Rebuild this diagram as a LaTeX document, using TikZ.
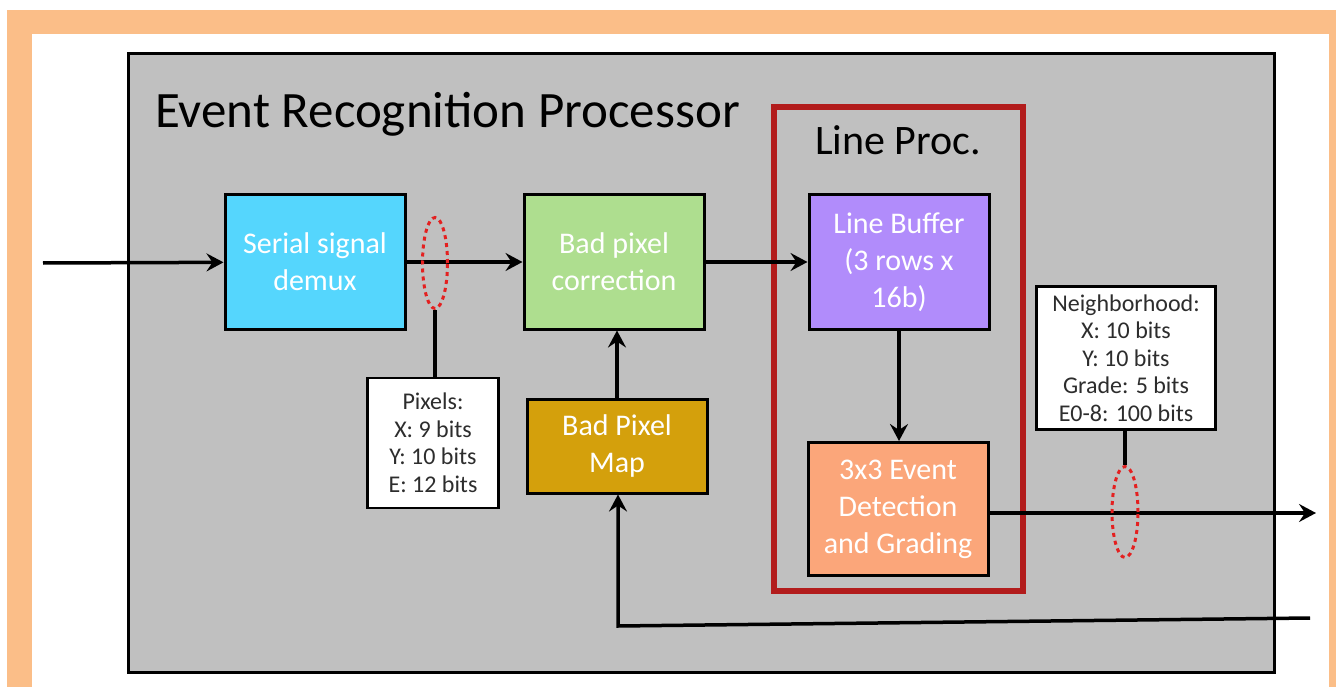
\documentclass[tikz,border=0pt]{standalone}
\usepackage{fontspec}
\setmainfont{Carlito}
\usetikzlibrary{arrows.meta,shapes.geometric}
\definecolor{framebg}{RGB}{251,190,136}
\definecolor{procgray}{RGB}{192,192,192}
\definecolor{demuxblue}{RGB}{85,214,253}
\definecolor{corrgreen}{RGB}{174,222,143}
\definecolor{bufpurple}{RGB}{177,140,251}
\definecolor{mapgold}{RGB}{212,160,12}
\definecolor{detsalmon}{RGB}{251,166,122}
\definecolor{procred}{RGB}{178,28,28}
\definecolor{ringred}{RGB}{228,32,32}
\definecolor{infotext}{RGB}{45,45,45}
\begin{document}
\begin{tikzpicture}[x=1pt, y=-1pt,
    block/.style={draw=black, line width=3pt, text=white, align=center, inner sep=0pt,
      font=\fontsize{30}{37}\selectfont},
    info/.style={draw=black, fill=white, line width=2.5pt, text=infotext, align=center, inner sep=0pt,
      font=\fontsize{24}{27.5}\selectfont},
    ring/.style={ellipse, draw=ringred, line width=3pt, dash pattern=on 4pt off 4pt, inner sep=0pt},
    flow/.style={line width=3.5pt, -{Stealth[length=17pt, width=18pt, inset=6pt]}},
    tap/.style={line width=3.5pt}]
  \useasboundingbox (0,0) rectangle (1336,687);
  \fill[framebg] (7,10) rectangle (1336,687);
  \fill[white] (32,34) rectangle (1329,687);
  \filldraw[fill=procgray, draw=black, line width=3pt] (128,54) rectangle (1274,672);
  \node[anchor=base west, inner sep=0pt, font=\fontsize{51}{60}\selectfont] (title) at (155,128) {Event Recognition Processor};
  \draw[procred, line width=5.5pt] (774,107) rectangle (1023,591);
  \node[anchor=base, inner sep=0pt, font=\fontsize{42}{50}\selectfont] (lptitle) at (898,155) {Line Proc.};

  \node[block, fill=demuxblue, minimum width=180pt, minimum height=134pt] (demux) at (315,262) {Serial signal\\demux};
  \node[block, fill=corrgreen, minimum width=180pt, minimum height=134pt] (corr) at (614,262) {Bad pixel\\correction};
  \node[block, fill=bufpurple, minimum width=180pt, minimum height=134pt] (lbuf) at (899,262) {Line Buffer\\(3 rows x\\16b)};
  \node[block, fill=mapgold, minimum width=180pt, minimum height=94pt] (bpmap) at (617,446) {Bad Pixel\\Map};
  \node[block, fill=detsalmon, minimum width=180pt, minimum height=133pt] (evdet) at (898,509) {3x3 Event\\Detection\\and Grading};
  \node[info, minimum width=131pt, minimum height=130pt] (pixinfo) at (433,443) {Pixels:\\X: 9 bits\\Y: 10 bits\\E: 12 bits};
  \node[info, minimum width=179pt, minimum height=143pt] (nbinfo) at (1126,358) {Neighborhood:\\X: 10 bits\\Y: 10 bits\\Grade: 5 bits\\E0-8: 100 bits};

  \coordinate (sigin) at (43,263);
  \coordinate (evout) at (1316,513);
  \coordinate (fbin) at (1310,618);
  \coordinate (fbturn) at (618,626);
  \draw[flow] (sigin) -- (demux);
  \draw[flow] (demux) -- (corr);
  \draw[flow] (corr) -- (lbuf);
  \draw[flow] (lbuf.south) -- (lbuf.south |- evdet.north);
  \draw[flow] (bpmap.north) -- (bpmap.north |- corr.south);
  \draw[flow] (evdet.east |- evout) -- (evout);
  \draw[flow] (fbin) -- (fbturn) -- (fbturn |- bpmap.south);

  \node[ring, minimum width=25pt, minimum height=91pt] (pixring) at (435,263) {};
  \node[ring, minimum width=26pt, minimum height=91pt] (nbring) at (1125,512) {};
  \draw[tap] (pixring.south) -- (pixring.south |- pixinfo.north);
  \draw[tap] (nbring.north) -- (nbring.north |- nbinfo.south);
\end{tikzpicture}
\end{document}
